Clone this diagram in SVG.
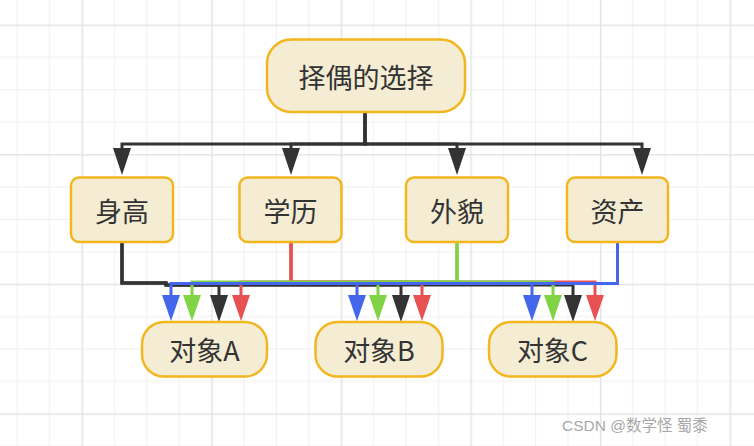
<svg xmlns="http://www.w3.org/2000/svg" width="754" height="446" viewBox="0 0 754 446">
  <style>
    .node rect { fill: #f5edd3; stroke: #f2b61f; stroke-width: 2.5; }
    .node text { font-family: "Noto Sans CJK SC", "Liberation Sans", sans-serif; font-size: 27px; fill: #333333; text-anchor: middle; dominant-baseline: central; }
    .edge { fill: none; stroke-width: 3; stroke-linejoin: miter; }
    .k { stroke: #333333; }
    .r { stroke: #e85151; }
    .g { stroke: #7fd345; }
    .b { stroke: #4466ea; }
    .wm { font-family: "Liberation Sans", "Noto Sans CJK SC", sans-serif; font-size: 15.5px; fill: #a8a8a8; stroke: #ffffff; stroke-width: 0.6; paint-order: stroke; }
  </style>
  <defs>
    <pattern id="grid" patternUnits="userSpaceOnUse" x="81.5" y="24.5" width="129.6" height="129.6">
      <path d="M32.9,0 V129.6 M65.3,0 V129.6 M97.7,0 V129.6 M0,32.9 H129.6 M0,65.3 H129.6 M0,97.7 H129.6" stroke="#efefef" stroke-width="1" fill="none"/>
      <path d="M0.75,0 V129.6 M0,0.75 H129.6" stroke="#e4e4e4" stroke-width="1.5" fill="none"/>
    </pattern>
    <marker id="mk" markerUnits="userSpaceOnUse" markerWidth="27" markerHeight="18" refX="0" refY="9" orient="auto" overflow="visible">
      <path d="M0,0 L27,9 L0,18 Z" fill="#333333"/>
    </marker>
    <marker id="mr" markerUnits="userSpaceOnUse" markerWidth="26" markerHeight="18" refX="0" refY="9" orient="auto" overflow="visible">
      <path d="M0,0 L26,9 L0,18 Z" fill="#e85151"/>
    </marker>
    <marker id="mg" markerUnits="userSpaceOnUse" markerWidth="26" markerHeight="18" refX="0" refY="9" orient="auto" overflow="visible">
      <path d="M0,0 L26,9 L0,18 Z" fill="#7fd345"/>
    </marker>
    <marker id="mb" markerUnits="userSpaceOnUse" markerWidth="26" markerHeight="18" refX="0" refY="9" orient="auto" overflow="visible">
      <path d="M0,0 L26,9 L0,18 Z" fill="#4466ea"/>
    </marker>
  </defs>

  <rect x="0" y="0" width="754" height="446" fill="#ffffff"/>
  <rect x="0" y="0" width="754" height="446" fill="url(#grid)"/>

  <g id="connectors">
    <!-- top: root to attributes -->
    <path class="edge k" d="M365,112 V144 H122 V148" marker-end="url(#mk)"/>
    <path class="edge k" d="M365,112 V144 H291 V148" marker-end="url(#mk)"/>
    <path class="edge k" d="M365,112 V144 H457 V148" marker-end="url(#mk)"/>
    <path class="edge k" d="M365,112 V144 H642 V148" marker-end="url(#mk)"/>
    <!-- 身高 (black) -->
    <path class="edge k" d="M122,242 V283 H166 V285 H219 V295" marker-end="url(#mk)"/>
    <path class="edge k" d="M122,242 V283 H166 V285 H401 V295" marker-end="url(#mk)"/>
    <path class="edge k" d="M122,242 V283 H166 V285 H573 V295" marker-end="url(#mk)"/>
    <!-- 学历 (red) -->
    <path class="edge r" d="M291,242 V282 H241 V295" marker-end="url(#mr)"/>
    <path class="edge r" d="M291,242 V282 H422 V295" marker-end="url(#mr)"/>
    <path class="edge r" d="M291,242 V282 H595 V295" marker-end="url(#mr)"/>
    <!-- 外貌 (green) -->
    <path class="edge g" d="M457,242 V282 H192 V295" marker-end="url(#mg)"/>
    <path class="edge g" d="M457,242 V282 H378 V295" marker-end="url(#mg)"/>
    <path class="edge g" d="M457,242 V282 H553 V295" marker-end="url(#mg)"/>
    <!-- 资产 (blue) -->
    <path class="edge b" d="M617.5,242 V283.5 H171 V295" marker-end="url(#mb)"/>
    <path class="edge b" d="M617.5,242 V283.5 H357 V295" marker-end="url(#mb)"/>
    <path class="edge b" d="M617.5,242 V283.5 H532 V295" marker-end="url(#mb)"/>
  </g>

  <g id="root" class="node">
    <rect x="267" y="39.5" width="198" height="72.5" rx="24" ry="24"/>
    <text x="366" y="76">择偶的选择</text>
  </g>
  <g id="height" class="node">
    <rect x="71" y="177.5" width="102" height="64.5" rx="8" ry="8"/>
    <text x="122" y="210">身高</text>
  </g>
  <g id="education" class="node">
    <rect x="239.5" y="177.5" width="102" height="64.5" rx="8" ry="8"/>
    <text x="290.5" y="210">学历</text>
  </g>
  <g id="looks" class="node">
    <rect x="406" y="177.5" width="102" height="64.5" rx="8" ry="8"/>
    <text x="457" y="210">外貌</text>
  </g>
  <g id="assets" class="node">
    <rect x="567" y="177.5" width="101" height="64.5" rx="8" ry="8"/>
    <text x="617.5" y="210">资产</text>
  </g>
  <g id="objA" class="node">
    <rect x="142" y="322" width="125" height="54.5" rx="22" ry="22"/>
    <text x="204.5" y="349">对象A</text>
  </g>
  <g id="objB" class="node">
    <rect x="315.5" y="322" width="127" height="54.5" rx="22" ry="22"/>
    <text x="379" y="349">对象B</text>
  </g>
  <g id="objC" class="node">
    <rect x="489" y="322" width="127.5" height="54.5" rx="22" ry="22"/>
    <text x="552.5" y="349">对象C</text>
  </g>

  <text class="wm" x="562" y="431">CSDN @数学怪 蜀黍</text>
</svg>
